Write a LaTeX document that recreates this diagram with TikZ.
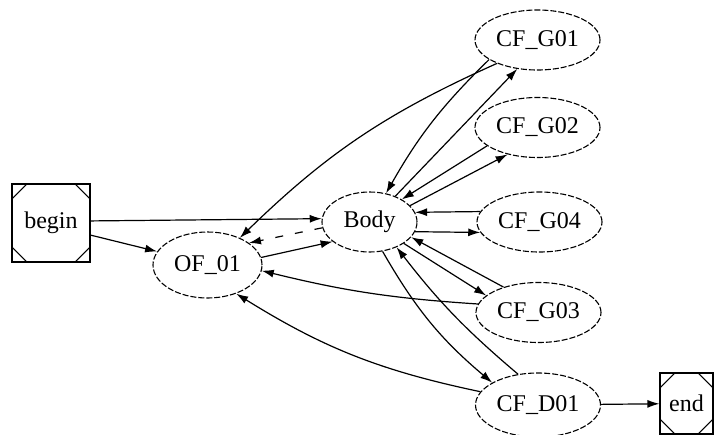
\documentclass[tikz,border=0pt]{standalone}
\usepackage{fontspec}
\setmainfont{Liberation Serif}
\newfontfamily\diagfont{Liberation Serif}
\usetikzlibrary{shapes.geometric,arrows.meta,calc}
\begin{document}
\begin{tikzpicture}[x=1pt,y=-1pt,
  every node/.style={font=\diagfont\fontsize{24}{27}\selectfont, inner sep=0pt},
  st/.style={draw, ellipse, line width=1.1pt, dash pattern=on 6pt off 2pt, minimum width=125pt, minimum height=60pt},
  msq/.style={draw, rectangle, line width=1.1pt},
  cut/.style={line width=1.1pt},
  edge/.style={line width=1.2pt, -{Latex[length=12pt,width=8pt]}},
  gapped/.style={dash pattern=on 8pt off 12pt}
]
\useasboundingbox (0,0) rectangle (714,434);
\node[msq, minimum width=78pt, minimum height=78pt] (begin) at (51,223) {begin};
\node[st, minimum width=109pt, minimum height=66pt] (of) at (207.5,265) {OF\_01};
\node[st, minimum width=95pt, minimum height=60pt] (body) at (369.5,222) {Body};
\node[st] (g1) at (537.5,40) {CF\_G01};
\node[st] (g2) at (537.5,127.5) {CF\_G02};
\node[st] (g4) at (539.5,222) {CF\_G04};
\node[st] (g3) at (538.5,312.5) {CF\_G03};
\node[st, minimum height=64pt] (d1) at (538,405) {CF\_D01};
\node[msq, minimum width=53pt, minimum height=61pt] (end) at (686.5,403.5) {end};
\foreach \n in {begin,end} {
  \draw[cut] ($(\n.north west)+(0pt,-16pt)$) -- ($(\n.north west)+(16pt,0pt)$);
  \draw[cut] ($(\n.north east)+(0pt,-16pt)$) -- ($(\n.north east)+(-16pt,0pt)$);
  \draw[cut] ($(\n.south west)+(0pt,16pt)$) -- ($(\n.south west)+(16pt,0pt)$);
  \draw[cut] ($(\n.south east)+(0pt,16pt)$) -- ($(\n.south east)+(-16pt,0pt)$);
}
\draw[edge] (begin.3) -- (body.176);
\draw[edge] (begin.-17) -- (of.165);
\draw[edge] (of.8) -- (body.208);
\draw[edge, gapped] (body.187) -- (of.28);
\draw[edge] (g1.210) to[bend right=10] (of.40);
\draw[edge] (g1.202) to[bend right=8] (body.60);
\draw[edge] (body.45) -- (g1.235);
\draw[edge] (g2.200) -- (body.35);
\draw[edge] (body.22) -- (g2.222);
\draw[edge] (g4.170) -- (body.12);
\draw[edge] (body.-12) -- (g4.190);
\draw[edge] (g3.144) -- (body.-20);
\draw[edge] (body.-32) -- (g3.162);
\draw[edge] (g3.172) to[bend left=5] (of.-6);
\draw[edge] (body.-66) to[bend right=10] (d1.154);
\draw[edge] (d1.123) to[bend left=6] (body.-43);
\draw[edge] (d1.167) to[bend left=10] (of.-45);
\draw[edge] (d1) -- (end);
\end{tikzpicture}
\end{document}
